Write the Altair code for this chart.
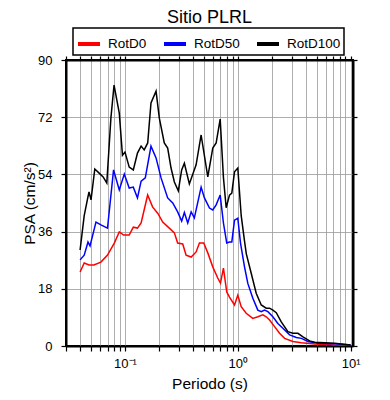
import altair as alt
import pandas as pd

series_names = ["RotD0", "RotD50", "RotD100"]
series_colors = ["#ff0000", "#0000ff", "#000000"]

period_d0 = [0.040, 0.0435, 0.048, 0.053, 0.0612, 0.070, 0.0804, 0.089, 0.0972, 0.109,
             0.1185, 0.129, 0.139, 0.1588, 0.176, 0.195, 0.216, 0.247, 0.274, 0.293,
             0.325, 0.348, 0.386, 0.427, 0.457, 0.499, 0.542, 0.600, 0.664, 0.702,
             0.746, 0.798, 0.844, 0.935, 1.0, 1.072, 1.187, 1.359, 1.505, 1.667,
             1.787, 1.913, 2.118, 2.346, 2.60, 3.08, 3.66, 4.80, 7.22, 10.0]
psa_d0 = [23.3, 26.1, 25.5, 25.5, 26.4, 28.6, 32.4, 35.9, 34.9, 34.9,
          37.4, 37.1, 38.7, 47.5, 43.7, 41.8, 39.0, 37.1, 35.6, 32.4,
          32.1, 28.6, 28.0, 29.6, 32.4, 32.4, 29.3, 24.9, 21.4, 19.8,
          24.5, 17.0, 15.4, 12.9, 16.0, 12.4, 10.3, 8.7, 9.2, 9.8,
          9.2, 8.2, 6.1, 4.0, 2.4, 1.4, 1.0, 0.6, 0.3, 0.2]

period_d50 = [0.040, 0.0435, 0.047, 0.049, 0.0553, 0.0612, 0.070, 0.0792, 0.089, 0.0986,
              0.109, 0.1185, 0.129, 0.139, 0.1514, 0.170, 0.1885, 0.2088, 0.239, 0.265,
              0.293, 0.318, 0.336, 0.360, 0.386, 0.412, 0.473, 0.506, 0.561, 0.600,
              0.643, 0.698, 0.746, 0.798, 0.844, 0.885, 0.935, 1.0, 1.057, 1.107,
              1.147, 1.227, 1.359, 1.505, 1.614, 1.726, 1.847, 2.046, 2.265, 2.51,
              2.88, 3.30, 3.66, 4.19, 5.13, 7.22, 10.0]
psa_d50 = [27.1, 28.6, 32.7, 31.5, 39.0, 38.1, 37.1, 55.4, 49.1, 54.1,
           49.7, 50.0, 46.6, 51.9, 52.9, 62.9, 59.2, 52.9, 46.6, 45.0,
           42.2, 39.3, 42.0, 38.7, 42.2, 40.3, 50.0, 46.6, 43.4, 42.8,
           44.4, 47.5, 38.7, 32.4, 32.7, 32.7, 39.6, 40.2, 32.4, 28.1,
           24.9, 19.7, 15.0, 11.3, 10.8, 11.3, 10.8, 9.2, 7.1, 5.6,
           3.5, 2.7, 2.4, 1.4, 0.85, 0.7, 0.3]

period_d100 = [0.040, 0.0435, 0.047, 0.048, 0.050, 0.054, 0.059, 0.064, 0.069, 0.075,
               0.080, 0.089, 0.095, 0.100, 0.109, 0.1185, 0.129, 0.139, 0.148, 0.159,
               0.170, 0.1885, 0.2016, 0.223, 0.239, 0.256, 0.274, 0.297, 0.318, 0.336,
               0.372, 0.427, 0.473, 0.542, 0.600, 0.643, 0.698, 0.746, 0.789, 0.844,
               0.885, 0.935, 1.0, 1.072, 1.147, 1.19, 1.315, 1.456, 1.614, 1.787,
               1.913, 2.046, 2.193, 2.429, 2.78, 3.08, 3.41, 3.78, 4.33, 4.80,
               7.22, 10.0]
psa_d100 = [30.2, 41.0, 47.0, 48.5, 46.0, 55.7, 54.4, 53.2, 51.3, 71.7,
            82.1, 73.3, 60.0, 61.0, 56.3, 55.4, 60.7, 62.9, 61.7, 63.9,
            76.5, 80.2, 71.7, 63.9, 62.3, 56.0, 51.6, 48.8, 55.4, 57.5,
            51.0, 57.0, 66.4, 53.2, 62.3, 63.9, 71.4, 53.0, 43.5, 47.5,
            48.1, 54.8, 56.0, 41.0, 33.0, 29.0, 22.9, 16.6, 12.9, 11.9,
            11.9, 11.3, 10.5, 7.6, 4.5, 4.0, 4.0, 2.9, 1.6, 1.2,
            0.85, 0.3]

x_tick_values = [0.03, 0.04, 0.05, 0.06, 0.07, 0.08, 0.09,
                 0.1, 0.2, 0.3, 0.4, 0.5, 0.6, 0.7, 0.8, 0.9,
                 1, 2, 3, 4, 5, 6, 7, 8, 9, 10]
y_tick_values = [0, 18, 36, 54, 72, 90]

rows = []
for name, ps, vs in [("RotD0", period_d0, psa_d0),
                     ("RotD50", period_d50, psa_d50),
                     ("RotD100", period_d100, psa_d100)]:
    for p, v in zip(ps, vs):
        rows.append({"Serie": name, "Periodo": p, "PSA": v})
df = pd.DataFrame(rows)

FONT = "Liberation Sans"
x_scale = alt.Scale(type="log", domain=[0.03, 10.5], nice=False)
y_scale = alt.Scale(domain=[0, 90], nice=False, zero=True)

label_expr = ("datum.value == 0.1 ? '10\u207b\u00b9' : datum.value == 1 ? '10\u2070' : "
              "datum.value == 10 ? '10\u00b9' : ''")

lines = alt.Chart(df).mark_line(strokeWidth=1.5, clip=True).encode(
    x=alt.X("Periodo:Q", scale=x_scale,
            axis=alt.Axis(values=x_tick_values, labelExpr=label_expr, title="Periodo (s)",
                          grid=True, gridColor="#999999", gridWidth=0.8,
                          tickSize=5, labelPadding=6, labelOverlap=False, labelFlush=False,
                          labelFontSize=13, titleFontSize=15.5, titleFontWeight="normal",
                          titlePadding=6)),
    y=alt.Y("PSA:Q", scale=y_scale,
            axis=alt.Axis(values=y_tick_values, title="PSA (cm/s\u00b2)",
                          grid=True, gridColor="#999999", gridWidth=0.8,
                          tickSize=5, labelPadding=9, labelFontSize=13,
                          titleFontSize=15.5, titleFontWeight="normal", titlePadding=0)),
    color=alt.Color("Serie:N",
                    scale=alt.Scale(domain=series_names, range=series_colors),
                    sort=series_names,
                    legend=alt.Legend(title=None, orient="none", legendX=7, legendY=-32,
                                      direction="horizontal", symbolType="stroke",
                                      symbolStrokeWidth=4, symbolSize=484,
                                      labelFontSize=13.5, labelFont=FONT,
                                      columnPadding=9, labelOffset=6,
                                      strokeColor="black", padding=3)),
)

frame = alt.Chart(df).mark_line(opacity=0).encode(
    x=alt.X("Periodo:Q", scale=x_scale,
            axis=alt.Axis(orient="top", values=x_tick_values, labels=False, title=None,
                          grid=False, tickSize=4)),
    y=alt.Y("PSA:Q", scale=y_scale,
            axis=alt.Axis(orient="right", values=y_tick_values, labels=False, title=None,
                          grid=False, tickSize=4)),
)

chart = alt.layer(lines, frame).resolve_axis(x="independent", y="independent").properties(
    width=287, height=286,
    autosize=alt.AutoSizeParams(type="none"),
    padding={"left": 58, "top": 52, "right": 20, "bottom": 50},
    title=alt.Title("Sitio PLRL", fontSize=18, font=FONT, fontWeight="normal",
                    anchor="middle", offset=0, color="black"),
).configure(font=FONT).configure_axis(
    domainColor="black", domainWidth=2, tickColor="black", tickWidth=1.2,
    labelColor="black", titleColor="black", labelFont=FONT, titleFont=FONT,
).configure_view(stroke="black", strokeWidth=2).configure_legend(strokeWidth=1.5)

chart.save("out.html", embed_options={"renderer": "svg", "actions": False})
